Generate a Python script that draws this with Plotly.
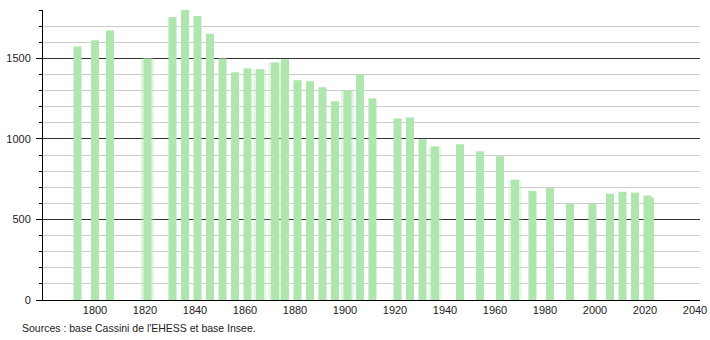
import plotly.graph_objects as go

years = [1793, 1800, 1806, 1821, 1831, 1836, 1841, 1846, 1851, 1856, 1861, 1866,
         1872, 1876, 1881, 1886, 1891, 1896, 1901, 1906, 1911, 1921, 1926, 1931,
         1936, 1946, 1954, 1962, 1968, 1975, 1982, 1990, 1999, 2006, 2011, 2016,
         2021, 2022]
population = [1573, 1613, 1673, 1499, 1756, 1800, 1762, 1652, 1499, 1413, 1438, 1432,
              1474, 1494, 1364, 1357, 1320, 1233, 1300, 1399, 1252, 1127, 1133, 998,
              953, 967, 923, 892, 747, 677, 695, 598, 598, 660, 672, 666,
              648, 635]
fuzzy_years = [1821, 1866, 1872, 1901, 1936, 1968]
fuzzy_values = [population[years.index(y)] for y in fuzzy_years]

x_ticks = [1800, 1820, 1840, 1860, 1880, 1900, 1920, 1940, 1960, 1980, 2000, 2020, 2040]
y_ticks = [0, 500, 1000, 1500]

bar_color = "rgb(174,230,174)"

fig = go.Figure()
fig.add_trace(go.Bar(x=fuzzy_years, y=fuzzy_values, width=5.2,
                     marker=dict(color=bar_color, opacity=0.35, line=dict(width=0)),
                     hoverinfo="skip", showlegend=False))
fig.add_trace(go.Bar(x=years, y=population, width=3.2,
                     marker=dict(color=bar_color, line=dict(width=0)),
                     showlegend=False))

fig.update_layout(
    width=710, height=340,
    margin=dict(l=43, r=10, t=10, b=40),
    plot_bgcolor="white", paper_bgcolor="white",
    barmode="overlay",
    font=dict(family="Liberation Sans, Arial, sans-serif", size=11, color="#222"),
    xaxis=dict(range=[1779.2, 2042], tickvals=x_ticks, showgrid=False,
               showline=True, linecolor="black", linewidth=1, ticks="",
               zeroline=False, automargin=False),
    yaxis=dict(range=[0, 1800], tickvals=y_ticks, showgrid=True,
               gridcolor="#333", gridwidth=1, showline=True, linecolor="black",
               linewidth=1, ticks="outside", ticklen=6, tickcolor="black",
               zeroline=False, ticklabelstandoff=3, automargin=False,
               minor=dict(dtick=100, showgrid=True, gridcolor="#cccccc",
                          ticks="outside", ticklen=3, tickcolor="black")),
    annotations=[dict(text="Sources : base Cassini de l'EHESS et base Insee.",
                      xref="paper", yref="paper", x=-0.035, y=-0.097,
                      xanchor="left", yanchor="middle", showarrow=False,
                      font=dict(size=10.5, color="#222"))],
)

fig.write_html("out.html")
